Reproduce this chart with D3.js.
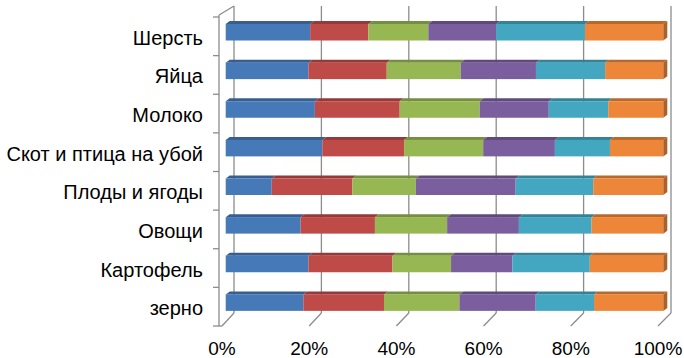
<!DOCTYPE html>
<html>
<head>
<meta charset="utf-8">
<script src="https://cdn.jsdelivr.net/npm/d3@7"></script>
<style>
  body { margin: 0; background: #fff; }
  text { font-family: "Liberation Sans", Arial, sans-serif; fill: #000; }
</style>
</head>
<body>
<div id="main"></div>
<script>
// categories, top to bottom
const categories = ["Шерсть", "Яйца", "Молоко", "Скот и птица на убой",
                    "Плоды и ягоды", "Овощи", "Картофель", "зерно"];

// shares (%) of the six series, one value per category
const series1 = [19.3, 18.9, 20.4, 22.1, 10.5, 17.1, 18.9, 17.7];
const series2 = [13.3, 17.9, 19.4, 18.7, 18.4, 17.0, 19.2, 18.4];
const series3 = [13.7, 16.9, 18.3, 18.1, 14.5, 16.5, 13.4, 17.2];
const series4 = [15.5, 17.2, 15.8, 16.4, 22.8, 16.4, 14.0, 17.4];
const series5 = [20.3, 15.8, 13.6, 12.6, 17.7, 16.6, 17.7, 13.3];
const series6 = [17.9, 13.3, 12.6, 12.2, 16.0, 16.4, 16.8, 15.8];

const colors = ["#4679b8", "#be4b48", "#96b752", "#7b5e9e", "#44a7c2", "#ed8638"];
const tickValues = [0, 0.2, 0.4, 0.6, 0.8, 1];

const ctx = {
    width: 684,
    height: 358,
    dx: 4,     // depth offset of the 3D bars
    dy: 3,
    barH: 16.5,
};

function buildRows() {
    const all = [series1, series2, series3, series4, series5, series6];
    return categories.map((c, i) => {
        const vals = all.map(s => s[i]);
        const total = d3.sum(vals);
        let acc = 0;
        const segs = vals.map((v, k) => {
            const s = { k: k, x0: acc / total, x1: (acc + v) / total };
            acc += v;
            return s;
        });
        return { cat: c, segs: segs };
    });
}

function createViz() {
    const svg = d3.select("#main").append("svg")
        .attr("width", ctx.width)
        .attr("height", ctx.height);

    const xFront = d3.scaleLinear().domain([0, 1]).range([222, 658]);
    const xBack = d3.scaleLinear().domain([0, 1]).range([234, 671]);
    const xBar = d3.scaleLinear().domain([0, 1]).range([225.7, 663.3]);
    const y = d3.scaleBand().domain(categories).range([17, 326]);

    const grid = svg.append("g")
        .attr("stroke", "#8c8c8c")
        .attr("stroke-width", 1.3)
        .attr("fill", "none");

    // back wall gridlines
    grid.selectAll("line.back")
        .data(tickValues)
        .enter().append("line")
        .attr("class", "back")
        .attr("x1", d => xBack(d)).attr("x2", d => xBack(d))
        .attr("y1", 6).attr("y2", 313);

    // floor edge ticks
    grid.selectAll("line.floor")
        .data(tickValues)
        .enter().append("line")
        .attr("class", "floor")
        .attr("x1", d => xFront(d)).attr("y1", 326)
        .attr("x2", d => xBack(d)).attr("y2", 313);

    // left side wall
    grid.append("line").attr("x1", 219).attr("x2", 219).attr("y1", 15).attr("y2", 326);
    grid.append("line").attr("x1", 219).attr("y1", 15).attr("x2", 234).attr("y2", 6);
    grid.append("line").attr("x1", 219).attr("y1", 326).attr("x2", 222).attr("y2", 326);

    const bounds = categories.map(c => y(c)).concat([326]);
    grid.selectAll("line.ytick")
        .data(bounds)
        .enter().append("line")
        .attr("class", "ytick")
        .attr("x1", 213).attr("x2", 219)
        .attr("y1", d => d).attr("y2", d => d);

    // bars
    const rows = buildRows();
    const row = svg.append("g").selectAll("g")
        .data(rows)
        .enter().append("g")
        .attr("transform", d => "translate(0," + (y(d.cat) + 7) + ")");

    const dx = ctx.dx, dy = ctx.dy, h = ctx.barH;

    row.selectAll("path.top")
        .data(d => d.segs)
        .enter().append("path")
        .attr("class", "top")
        .attr("fill", d => d3.color(colors[d.k]).darker(0.7))
        .attr("d", d => {
            const a = xBar(d.x0), b = xBar(d.x1);
            return "M" + a + ",0L" + (a + dx) + "," + (-dy) + "L" + (b + dx) + "," + (-dy) + "L" + b + ",0Z";
        });

    row.selectAll("rect.front")
        .data(d => d.segs)
        .enter().append("rect")
        .attr("class", "front")
        .attr("x", d => xBar(d.x0))
        .attr("width", d => xBar(d.x1) - xBar(d.x0))
        .attr("y", 0)
        .attr("height", h)
        .attr("fill", d => colors[d.k]);

    row.append("path")
        .attr("fill", d3.color(colors[5]).darker(0.9))
        .attr("d", () => {
            const b = xBar(1);
            return "M" + b + ",0L" + (b + dx) + "," + (-dy) + "L" + (b + dx) + "," + (h - dy) + "L" + b + "," + h + "Z";
        });

    // category labels
    svg.append("g").selectAll("text")
        .data(categories)
        .enter().append("text")
        .attr("x", 203)
        .attr("y", d => y(d) + y.bandwidth() / 2 + 1.5)
        .attr("text-anchor", "end")
        .attr("dominant-baseline", "central")
        .style("font-size", "20px")
        .text(d => d);

    // percent labels
    svg.append("g").selectAll("text")
        .data(tickValues)
        .enter().append("text")
        .attr("x", d => xFront(d))
        .attr("y", 355)
        .attr("text-anchor", "middle")
        .style("font-size", "19px")
        .text(d => d3.format(".0%")(d));
}

createViz();
</script>
</body>
</html>
